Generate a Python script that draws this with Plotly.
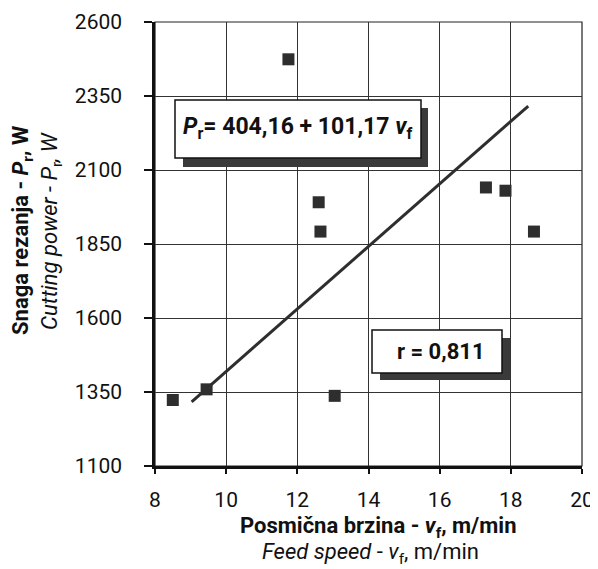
import plotly.graph_objects as go

# Data
feed_speed = [8.50, 9.45, 11.75, 12.60, 12.65, 13.05, 17.30, 17.85, 18.65]
cutting_power = [1323, 1359, 2474, 1991, 1892, 1337, 2041, 2030, 1892]
trend_x = [9.03, 18.49]
trend_y = [1317, 2316]
x_ticks = [8, 10, 12, 14, 16, 18, 20]
y_ticks = [1100, 1350, 1600, 1850, 2100, 2350, 2600]

FONT = "Roboto, Liberation Sans, sans-serif"
DARK = "#2e2e2e"

# The page body has an 8px margin: size the figure so it fills the window.
OFF = 8
W, H = 598 - OFF, 569 - OFF
# plot area in window pixels: x 155..582, y 22..466
L, T = 155 - OFF, 22 - OFF
R = W - (582 - OFF)
B = H - (466 - OFF)
PW, PH = W - L - R, H - T - B

fig = go.Figure()
fig.add_trace(go.Scatter(x=trend_x, y=trend_y, mode="lines",
                         line=dict(color=DARK, width=3), showlegend=False))
fig.add_trace(go.Scatter(x=feed_speed, y=cutting_power, mode="markers",
                         marker=dict(symbol="square", size=12, color=DARK),
                         showlegend=False))


def px(x):
    # window x pixel -> paper coordinate
    return (x - OFF - L) / PW


def py(y):
    # window y pixel -> paper coordinate
    return (H - B - (y - OFF)) / PH


shapes = [
    dict(type="rect", xref="paper", yref="paper", x0=0, x1=1, y0=0, y1=1,
         line=dict(color="#222", width=1.2), layer="below"),
    dict(type="rect", xref="paper", yref="paper",
         x0=px(183), x1=px(428), y0=py(167), y1=py(108),
         fillcolor="#3a3a3a", line=dict(width=0)),
    dict(type="rect", xref="paper", yref="paper",
         x0=px(175), x1=px(421), y0=py(158), y1=py(100),
         fillcolor="white", line=dict(color="#111", width=1.5)),
    dict(type="rect", xref="paper", yref="paper",
         x0=px(380), x1=px(510), y0=py(380), y1=py(338),
         fillcolor="#3a3a3a", line=dict(width=0)),
    dict(type="rect", xref="paper", yref="paper",
         x0=px(372), x1=px(502), y0=py(373), y1=py(330),
         fillcolor="white", line=dict(color="#111", width=1.5)),
]

annotations = [
    dict(xref="paper", yref="paper", x=px(297), y=py(128), xanchor="center", yanchor="middle",
         text="<b><i>P</i><sub>r</sub>= 404,16 + 101,17 <i>v</i><sub>f</sub></b>",
         showarrow=False, font=dict(family=FONT, size=23, color="#111")),
    dict(xref="paper", yref="paper", x=px(441), y=py(351), xanchor="center", yanchor="middle",
         text="<b>r = 0,811</b>",
         showarrow=False, font=dict(family=FONT, size=22, color="#111")),
    dict(xref="paper", yref="paper", x=px(378), y=py(527), xanchor="center", yanchor="middle",
         text="<b>Posmična brzina - <i>v</i><sub>f</sub>, m/min</b>",
         showarrow=False, font=dict(family=FONT, size=22, color="#111")),
    dict(xref="paper", yref="paper", x=px(370), y=py(553), xanchor="center", yanchor="middle",
         text="<i>Feed speed</i> - <i>v</i><sub>f</sub>, m/min",
         showarrow=False, font=dict(family=FONT, size=22, color="#111")),
    dict(xref="paper", yref="paper", x=px(23), y=py(231), xanchor="center", yanchor="middle",
         text="<b>Snaga rezanja - <i>P</i><sub>r</sub>, W</b>", textangle=-90,
         showarrow=False, font=dict(family=FONT, size=22, color="#111")),
    dict(xref="paper", yref="paper", x=px(52), y=py(231), xanchor="center", yanchor="middle",
         text="<i>Cutting power - P</i><sub>r</sub><i>, W</i>", textangle=-90,
         showarrow=False, font=dict(family=FONT, size=22, color="#111")),
]

fig.update_layout(
    width=W, height=H,
    margin=dict(l=L, r=R, t=T, b=B, pad=0, autoexpand=False),
    paper_bgcolor="white", plot_bgcolor="white",
    font=dict(family=FONT, size=21, color="#111"),
    shapes=shapes, annotations=annotations,
    showlegend=False,
)
fig.update_xaxes(range=[8, 20], tickvals=x_ticks, ticktext=[str(v) for v in x_ticks],
                 showgrid=True, gridcolor="#333", gridwidth=1.2,
                 showline=True, linecolor="#111", linewidth=2.5,
                 ticks="outside", ticklen=5, tickwidth=2, tickcolor="#111",
                 ticklabelstandoff=8, zeroline=False, automargin=False,
                 tickfont=dict(size=21))
fig.update_yaxes(range=[1100, 2600], tickvals=y_ticks, ticktext=[str(v) for v in y_ticks],
                 showgrid=True, gridcolor="#333", gridwidth=1.2,
                 showline=True, linecolor="#111", linewidth=2.5,
                 ticks="outside", ticklen=8, tickwidth=2, tickcolor="#111",
                 ticklabelstandoff=18, zeroline=False, automargin=False,
                 tickfont=dict(size=21))

fig.write_html("out.html")
